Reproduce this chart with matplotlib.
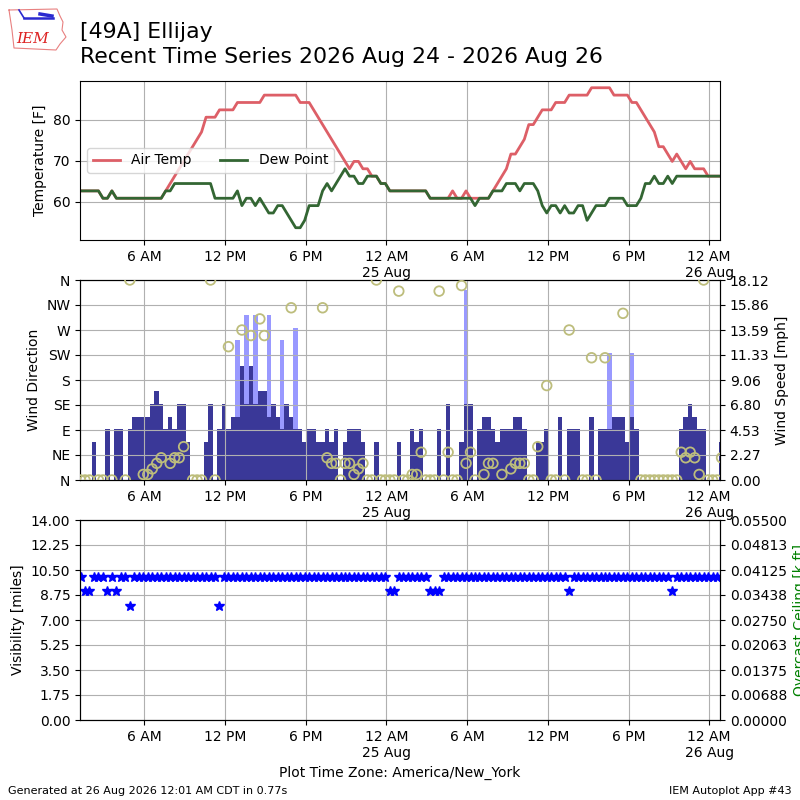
import numpy as np
import matplotlib
matplotlib.use("Agg")
import matplotlib.pyplot as plt
import matplotlib.dates as mdates
from matplotlib.lines import Line2D
from matplotlib.ticker import FixedLocator, FuncFormatter, FormatStrFormatter
from datetime import datetime, timedelta

nan = np.nan

# ---------------- data (20-minute AWOS observations) ----------------
OBS_START = datetime(2026, 8, 24, 1, 15)
OBS_STEP_MIN = 20

# air temperature [C]
temp_c = [17, 17, 17, 17, 17, 16, 16, 17, 16, 16, 16, 16,
          16, 16, 16, 16, 16, 16, 16, 17, 18, 19, 20, 21,
          22, 23, 24, 25, 27, 27, 27, 28, 28, 28, 28, 29,
          29, 29, 29, 29, 29, 30, 30, 30, 30, 30, 30, 30,
          30, 29, 29, 29, 28, 27, 26, 25, 24, 23, 22, 21,
          20, 21, 21, 20, 20, 19, 19, 18, 18, 17, 17, 17,
          17, 17, 17, 17, 17, 17, 16, 16, 16, 16, 16, 17,
          16, 16, 17, 16, 16, 16, 16, 16, 17, 18, 19, 20,
          22, 22, 23, 24, 26, 26, 27, 28, 28, 28, 29, 29,
          29, 30, 30, 30, 30, 30, 31, 31, 31, 31, 31, 30,
          30, 30, 30, 29, 29, 28, 27, 26, 25, 23, 23, 22,
          21, 22, 21, 20, 21, 20, 20, 20, 19, 19, 19, 19]

# dew point [C]
dewp_c = [17, 17, 17, 17, 17, 16, 16, 17, 16, 16, 16, 16,
          16, 16, 16, 16, 16, 16, 16, 17, 17, 18, 18, 18,
          18, 18, 18, 18, 18, 18, 16, 16, 16, 16, 16, 17,
          15, 16, 16, 15, 16, 15, 14, 14, 15, 15, 14, 13,
          12, 12, 13, 15, 15, 15, 17, 18, 17, 18, 19, 20,
          19, 19, 18, 18, 19, 19, 19, 18, 18, 17, 17, 17,
          17, 17, 17, 17, 17, 17, 16, 16, 16, 16, 16, 16,
          16, 16, 16, 16, 15, 16, 16, 16, 17, 17, 17, 18,
          18, 18, 17, 18, 18, 18, 17, 15, 14, 15, 15, 14,
          15, 14, 14, 15, 15, 13, 14, 15, 15, 15, 16, 16,
          16, 16, 15, 15, 15, 16, 18, 18, 19, 18, 18, 19,
          18, 19, 19, 19, 19, 19, 19, 19, 19, 19, 19, 19]

# wind speed [knots]
sknt = [0, 0, 0, 3, 0, 0, 4, 0, 4, 4, 0, 4,
        5, 5, 5, 5, 6, 7, 6, 4, 5, 4, 6, 6,
        3, 0, 0, 0, 3, 6, 0, 4, 6, 4, 5, 5,
        9, 6, 9, 6, 7, 7, 5, 6, 5, 4, 6, 5,
        4, 4, 3, 4, 4, 3, 3, 4, 3, 4, 0, 3,
        4, 4, 4, 3, 0, 0, 3, 0, 0, 0, 0, 3,
        0, 0, 4, 3, 4, 0, 0, 0, 4, 0, 6, 0,
        0, 3, 6, 6, 0, 4, 5, 5, 4, 3, 4, 4,
        4, 5, 5, 4, 0, 0, 3, 3, 4, 0, 0, 5,
        0, 4, 4, 4, 0, 0, 5, 0, 4, 4, 4, 5,
        5, 5, 3, 5, 4, 0, 0, 0, 0, 0, 0, 0,
        0, 0, 4, 5, 6, 5, 4, 4, 0, 0, 0, 3]

# wind gust [knots]
gust_kt = [nan, nan, nan, nan, nan, nan, nan, nan, nan, nan, nan, nan,
           nan, nan, nan, nan, nan, nan, nan, nan, nan, nan, nan, nan,
           nan, nan, nan, nan, nan, nan, nan, nan, nan, nan, nan, 11,
           nan, 13, nan, 13, nan, nan, 13, nan, nan, 11, nan, nan,
           12, nan, nan, nan, nan, nan, nan, nan, nan, nan, nan, nan,
           nan, nan, nan, nan, nan, nan, nan, nan, nan, nan, nan, nan,
           nan, nan, nan, nan, nan, nan, nan, nan, nan, nan, nan, nan,
           nan, nan, 15, nan, nan, nan, nan, nan, nan, nan, nan, nan,
           nan, nan, nan, nan, nan, nan, nan, nan, nan, nan, nan, nan,
           nan, nan, nan, nan, nan, nan, nan, nan, nan, nan, 10, nan,
           nan, nan, nan, 10, nan, nan, nan, nan, nan, nan, nan, nan,
           nan, nan, nan, nan, nan, nan, nan, nan, nan, nan, nan, nan]

# wind direction [deg]
drct = [0, 0, 0, nan, 0, 0, nan, 0, nan, nan, 0, 360,
        nan, nan, 10, 10, 20, 30, 40, nan, 30, 40, 40, 60,
        nan, 0, 0, 0, nan, 360, 0, nan, nan, 240, nan, nan,
        270, nan, 260, nan, 290, 260, nan, nan, nan, nan, nan, 310,
        nan, nan, nan, nan, nan, nan, 310, 40, 30, 30, 0, 30,
        30, 10, 20, 30, 0, 0, 360, 0, 0, 0, 0, 340,
        0, 0, 10, 10, 50, 0, 0, 0, 340, 0, 50, 0,
        0, 350, 30, 50, 0, nan, 10, 30, 30, nan, 10, nan,
        20, 30, 30, 30, 0, 0, 60, nan, 170, 0, 0, nan,
        0, 270, nan, nan, 0, 0, 220, 0, nan, 220, nan, nan,
        nan, 300, nan, nan, nan, 0, 0, 0, 0, 0, 0, 0,
        0, 0, 50, 40, 50, 40, 10, 360, 0, 0, 0, 40]

# visibility [miles]
vsby = [10, 9, 9, 10, 10, 10, 9, 10, 9, 10, 10, 8,
        10, 10, 10, 10, 10, 10, 10, 10, 10, 10, 10, 10,
        10, 10, 10, 10, 10, 10, 10, 8, 10, 10, 10, 10,
        10, 10, 10, 10, 10, 10, 10, 10, 10, 10, 10, 10,
        10, 10, 10, 10, 10, 10, 10, 10, 10, 10, 10, 10,
        10, 10, 10, 10, 10, 10, 10, 10, 10, 9, 9, 10,
        10, 10, 10, 10, 10, 10, 9, 9, 9, 10, 10, 10,
        10, 10, 10, 10, 10, 10, 10, 10, 10, 10, 10, 10,
        10, 10, 10, 10, 10, 10, 10, 10, 10, 10, 10, 10,
        10, 9, 10, 10, 10, 10, 10, 10, 10, 10, 10, 10,
        10, 10, 10, 10, 10, 10, 10, 10, 10, 10, 10, 10,
        9, 10, 10, 10, 10, 10, 10, 10, 10, 10, 10, 10]

dir_labels = ["N", "NE", "E", "SE", "S", "SW", "W", "NW", "N"]

# ---------------- derived ----------------
n = len(temp_c)
times = [OBS_START + timedelta(minutes=OBS_STEP_MIN * i) for i in range(n)]
tnum = mdates.date2num(times)
KT2MPH = 1.15078
tmpf = np.array(temp_c, float) * 9.0 / 5.0 + 32.0
dwpf = np.array(dewp_c, float) * 9.0 / 5.0 + 32.0
smph = np.array(sknt, float) * KT2MPH
gmph = np.array(gust_kt, float) * KT2MPH
bar_w = OBS_STEP_MIN / 1440.0

xmin = mdates.date2num(datetime(2026, 8, 24, 1, 12, 40))
xmax = mdates.date2num(datetime(2026, 8, 26, 0, 48))
tick_times = [datetime(2026, 8, 24, 6) + timedelta(hours=6 * k) for k in range(8)]
tick_nums = mdates.date2num(tick_times)


def xfmt(x, pos=None):
    d = mdates.num2date(x)
    hr = d.hour % 12
    if hr == 0:
        hr = 12
    s = "%d %s" % (hr, "AM" if d.hour < 12 else "PM")
    if d.hour == 0:
        s += "\n%d %s" % (d.day, d.strftime("%b"))
    return s


def style_x(ax):
    ax.set_xlim(xmin, xmax)
    ax.xaxis.set_major_locator(FixedLocator(tick_nums))
    ax.xaxis.set_major_formatter(FuncFormatter(xfmt))
    ax.grid(True, color="#b0b0b0")


fig = plt.figure(figsize=(8, 8), dpi=100)
ax1 = fig.add_axes([0.1, 0.70, 0.8, 0.199])
ax2 = fig.add_axes([0.1, 0.40, 0.8, 0.25])
ax3 = fig.add_axes([0.1, 0.10, 0.8, 0.25])

# ---- temperature panel ----
ax1.plot(tnum, tmpf, color="#dd5f67", lw=2, label="Air Temp")
ax1.plot(tnum, dwpf, color="#336633", lw=2, label="Dew Point")
ax1.set_ylim(50.6, 89.5)
ax1.set_yticks([60, 70, 80])
ax1.set_ylabel("Temperature [F]")
style_x(ax1)
ax1.legend(loc="center left", ncol=2)

# ---- wind panel ----
ax2b = ax2.twinx()
ax2b.bar(tnum, gmph, width=bar_w, color="#9999ff", linewidth=0)
ax2b.bar(tnum, smph, width=bar_w, color="#3a3898", linewidth=0)
ymax = np.nanmax(gmph) * 1.05
ax2b.set_ylim(0, ymax)
ax2b.set_yticks(np.linspace(0, ymax, 9))
ax2b.yaxis.set_major_formatter(FormatStrFormatter("%.2f"))
ax2b.set_ylabel("Wind Speed [mph]")

ax2.scatter(tnum, drct, s=48, facecolors="none", edgecolors="#bdbd7c",
            linewidths=1.3, zorder=3)
ax2.set_ylim(0, 360)
ax2.set_yticks(np.arange(0, 361, 45))
ax2.set_yticklabels(dir_labels)
ax2.set_ylabel("Wind Direction")
style_x(ax2)
ax2.set_zorder(ax2b.get_zorder() + 1)
ax2.patch.set_visible(False)

# ---- visibility panel ----
ax3.plot(tnum, vsby, "*", color="b", ms=7, linestyle="none")
ax3.set_ylim(0, 14)
ax3.set_yticks(np.linspace(0, 14, 9))
ax3.yaxis.set_major_formatter(FormatStrFormatter("%.2f"))
ax3.set_ylabel("Visibility [miles]")
ax3.set_xlabel("Plot Time Zone: America/New_York")
style_x(ax3)
ax3b = ax3.twinx()
ax3b.set_ylim(0, 0.055)
ax3b.set_yticks(np.linspace(0, 0.055, 9))
ax3b.yaxis.set_major_formatter(FormatStrFormatter("%.5f"))
ax3b.set_ylabel("Overcast Ceiling [k ft]", color="g")

# ---- titles / footer ----
fig.text(0.1, 0.9725, "[49A] Ellijay\nRecent Time Series 2026 Aug 24 - 2026 Aug 26",
         fontsize=15.8, va="top", ha="left", linespacing=1.3)

# simple logo: state outline, station glyph, IEM text
W, H = 800.0, 800.0
outline_px = [(9, 10), (57, 9), (60, 16), (63, 22), (62, 30), (66, 37),
              (60, 44), (56, 50), (14, 48), (12, 30), (9, 10)]
fig.add_artist(Line2D([p[0] / W for p in outline_px],
                      [1 - p[1] / H for p in outline_px],
                      color="#e88080", lw=0.8))
fig.add_artist(Line2D([24 / W, 53 / W], [1 - 18 / H, 1 - 18 / H],
                      color="#2a2ad0", lw=1.8))
fig.add_artist(Line2D([19 / W, 24 / W], [1 - 10 / H, 1 - 18 / H],
                      color="#2a2ad0", lw=1.2))
fig.add_artist(Line2D([40 / W, 52 / W], [1 - 14 / H, 1 - 16 / H],
                      color="#2a2ad0", lw=2.5))
fig.text(0.041, 0.946, "IEM", color="#dd2222", fontsize=11, style="italic",
         family="serif", ha="center")
fig.text(0.01, 0.008, "Generated at 26 Aug 2026 12:01 AM CDT in 0.77s", fontsize=8)
fig.text(0.99, 0.008, "IEM Autoplot App #43", fontsize=8, ha="right")

fig.savefig("out.png", dpi=100)
